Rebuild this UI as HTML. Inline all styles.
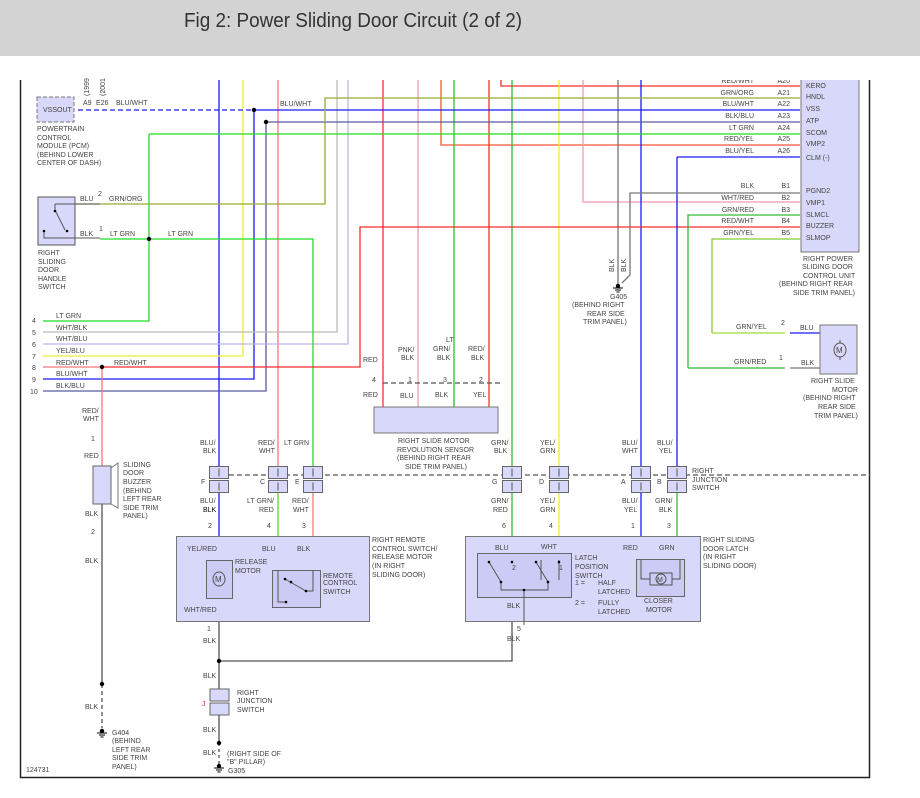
<!DOCTYPE html>
<html><head><meta charset="utf-8"><style>
body{margin:0;background:#fff;width:920px;height:798px;overflow:hidden}
svg{display:block}
text{font-family:"Liberation Sans",sans-serif;font-size:7px;fill:#444}
.t{font-family:"Liberation Sans Narrow","Liberation Sans",sans-serif;font-size:20px;fill:#333}
</style></head><body>
<svg id="s" width="920" height="798" viewBox="0 0 920 798" xmlns="http://www.w3.org/2000/svg">
<rect x="0" y="0" width="920" height="56" fill="#d3d3d3"/>
<text class="t" x="184" y="27" textLength="338" lengthAdjust="spacingAndGlyphs">Fig 2: Power Sliding Door Circuit (2 of 2)</text>
<path d="M20.5 80 V777.5 H869.5 V80" fill="none" stroke="#222" stroke-width="1.5"/>
<g id="w" fill="none" stroke-width="1.3"></g>
<g id="c"></g>
<rect x="801" y="78" width="58" height="174" fill="#d8d8fa" stroke="#777"/>
<g>
<text x="806" y="88">KERO</text><text x="806" y="99">HNDL</text><text x="806" y="111">VSS</text><text x="806" y="123">ATP</text><text x="806" y="135">SCOM</text><text x="806" y="146">VMP2</text><text x="806" y="160">CLM (-)</text>
<text x="806" y="193">PGND2</text><text x="806" y="205">VMP1</text><text x="806" y="217">SLMCL</text><text x="806" y="228">BUZZER</text><text x="806" y="240">SLMOP</text>
</g>
<g text-anchor="end">
<text x="754" y="83">RED/WHT</text><text x="790" y="83">A20</text>
<text x="754" y="95">GRN/ORG</text><text x="754" y="106">BLU/WHT</text><text x="754" y="118">BLK/BLU</text><text x="754" y="130">LT GRN</text><text x="754" y="141">RED/YEL</text><text x="754" y="153">BLU/YEL</text>
<text x="790" y="95">A21</text><text x="790" y="106">A22</text><text x="790" y="118">A23</text><text x="790" y="130">A24</text><text x="790" y="141">A25</text><text x="790" y="153">A26</text>
<text x="754" y="188">BLK</text><text x="754" y="200">WHT/RED</text><text x="754" y="212">GRN/RED</text><text x="754" y="223">RED/WHT</text><text x="754" y="235">GRN/YEL</text>
<text x="790" y="188">B1</text><text x="790" y="200">B2</text><text x="790" y="212">B3</text><text x="790" y="223">B4</text><text x="790" y="235">B5</text>
</g>
<rect x="0" y="56" width="920" height="24" fill="#fff"/>
<text x="803" y="261">RIGHT POWER</text><text x="802" y="269">SLIDING DOOR</text><text x="803" y="278">CONTROL UNIT</text><text x="779" y="286">(BEHIND RIGHT REAR</text><text x="793" y="295">SIDE TRIM PANEL)</text>
<rect x="37" y="97" width="37" height="25" fill="#d8d8fa" stroke="#777" stroke-dasharray="4,2"/>
<text x="43" y="112">VSSOUT</text>
<text x="83" y="105">A9</text><text x="96" y="105">E26</text><text x="116" y="105">BLU/WHT</text>
<text x="0" y="0" transform="translate(89,96) rotate(-90)">(1999</text>
<text x="0" y="0" transform="translate(105,96) rotate(-90)">(2001</text>
<text x="37" y="131">POWERTRAIN</text><text x="37" y="140">CONTROL</text><text x="37" y="148">MODULE (PCM)</text><text x="37" y="157">(BEHIND LOWER</text><text x="37" y="165">CENTER OF DASH)</text>
<text x="280" y="106">BLU/WHT</text>
<rect x="38" y="197" width="37" height="48" fill="#d8d8fa" stroke="#555"/>
<path d="M55 204 V211 M56 212 L65 230 M44 231 V238 H100 M55 204 H100" fill="none" stroke="#555"/>
<circle cx="55" cy="211" r="1.3" fill="#000"/><circle cx="67" cy="231" r="1.3" fill="#000"/><circle cx="44" cy="231" r="1.3" fill="#000"/>
<text x="80" y="201">BLU</text><text x="98" y="196">2</text><text x="109" y="201">GRN/ORG</text>
<text x="80" y="236">BLK</text><text x="99" y="231">1</text><text x="110" y="236">LT GRN</text><text x="168" y="236">LT GRN</text>
<text x="38" y="255">RIGHT</text><text x="38" y="264">SLIDING</text><text x="38" y="272">DOOR</text><text x="38" y="281">HANDLE</text><text x="38" y="289">SWITCH</text>
<g>
<text x="32" y="323">4</text><text x="32" y="335">5</text><text x="32" y="347">6</text><text x="32" y="359">7</text><text x="32" y="370">8</text><text x="32" y="382">9</text><text x="30" y="394">10</text>
<text x="56" y="318">LT GRN</text><text x="56" y="330">WHT/BLK</text><text x="56" y="341">WHT/BLU</text><text x="56" y="353">YEL/BLU</text><text x="56" y="365">RED/WHT</text><text x="56" y="376">BLU/WHT</text><text x="56" y="388">BLK/BLU</text>
<text x="114" y="365">RED/WHT</text>
</g>
<rect x="374" y="407" width="124" height="26" fill="#d8d8fa" stroke="#777"/>
<text x="363" y="362">RED</text><text x="398" y="352">PNK/</text><text x="401" y="360">BLK</text>
<text x="446" y="342">LT</text><text x="433" y="351">GRN/</text><text x="437" y="360">BLK</text>
<text x="468" y="351">RED/</text><text x="471" y="360">BLK</text>
<text x="372" y="382">4</text><text x="408" y="382">1</text><text x="443" y="382">3</text><text x="479" y="382">2</text>
<text x="363" y="397">RED</text><text x="400" y="398">BLU</text><text x="435" y="397">BLK</text><text x="473" y="397">YEL</text>
<text x="398" y="443">RIGHT SLIDE MOTOR</text><text x="397" y="452">REVOLUTION SENSOR</text><text x="397" y="460">(BEHIND RIGHT REAR</text><text x="405" y="469">SIDE TRIM PANEL)</text>
<text x="0" y="0" transform="translate(614,272) rotate(-90)">BLK</text>
<text x="0" y="0" transform="translate(626,272) rotate(-90)">BLK</text>
<text x="610" y="299">G405</text><text x="572" y="307">(BEHIND RIGHT</text><text x="587" y="316">REAR SIDE</text><text x="583" y="324">TRIM PANEL)</text>
<rect x="820" y="325" width="37" height="49" fill="#d8d8fa" stroke="#777"/>
<text x="736" y="329">GRN/YEL</text><text x="781" y="325">2</text><text x="800" y="330">BLU</text>
<text x="734" y="364">GRN/RED</text><text x="779" y="360">1</text><text x="801" y="365">BLK</text>
<text x="811" y="383">RIGHT SLIDE</text><text x="832" y="392">MOTOR</text><text x="803" y="400">(BEHIND RIGHT</text><text x="818" y="409">REAR SIDE</text><text x="814" y="418">TRIM PANEL)</text>
<rect x="93" y="466" width="18" height="38" fill="#d8d8fa" stroke="#666"/>
<path d="M111 468 L118 463 V508 L111 504" fill="none" stroke="#777"/>
<text x="82" y="413">RED/</text><text x="83" y="421">WHT</text><text x="91" y="441">1</text><text x="84" y="458">RED</text>
<text x="123" y="467">SLIDING</text><text x="123" y="475">DOOR</text><text x="123" y="484">BUZZER</text><text x="123" y="493">(BEHIND</text><text x="123" y="501">LEFT REAR</text><text x="123" y="510">SIDE TRIM</text><text x="123" y="518">PANEL)</text>
<text x="85" y="516">BLK</text><text x="91" y="534">2</text><text x="85" y="563">BLK</text><text x="85" y="709">BLK</text>
<text x="112" y="735">G404</text><text x="112" y="743">(BEHIND</text><text x="112" y="752">LEFT REAR</text><text x="112" y="760">SIDE TRIM</text><text x="112" y="769">PANEL)</text>
<text x="26" y="772">124731</text>
<text x="200" y="445">BLU/</text><text x="203" y="453">BLK</text>
<text x="258" y="445">RED/</text><text x="259" y="453">WHT</text><text x="284" y="445">LT GRN</text>
<text x="201" y="484">F</text><text x="260" y="484">C</text><text x="295" y="484">E</text>
<text x="200" y="503">BLU/</text><text x="203" y="512" style="fill:#000">BLK</text>
<text x="247" y="503">LT GRN/</text><text x="259" y="512">RED</text>
<text x="292" y="503">RED/</text><text x="293" y="512">WHT</text>
<text x="208" y="528">2</text><text x="267" y="528">4</text><text x="302" y="528">3</text>
<text x="491" y="445">GRN/</text><text x="494" y="453">BLK</text>
<text x="540" y="445">YEL/</text><text x="540" y="453">GRN</text>
<text x="622" y="445">BLU/</text><text x="622" y="453">WHT</text>
<text x="657" y="445">BLU/</text><text x="659" y="453">YEL</text>
<text x="492" y="484">G</text><text x="539" y="484">D</text><text x="621" y="484">A</text><text x="657" y="484">B</text>
<text x="692" y="473">RIGHT</text><text x="692" y="482">JUNCTION</text><text x="692" y="490">SWITCH</text>
<text x="491" y="503">GRN/</text><text x="493" y="512">RED</text>
<text x="540" y="503">YEL/</text><text x="540" y="512">GRN</text>
<text x="622" y="503">BLU/</text><text x="624" y="512">YEL</text>
<text x="655" y="503">GRN/</text><text x="659" y="512">BLK</text>
<text x="502" y="528">6</text><text x="549" y="528">4</text><text x="631" y="528">1</text><text x="667" y="528">3</text>
<rect x="176.5" y="536.5" width="193" height="85" fill="#d8d8fa" stroke="#777"/>
<rect x="206.5" y="560.5" width="26" height="38" fill="#cbcbf5" stroke="#666"/>
<ellipse cx="219" cy="579" rx="6" ry="7" fill="none" stroke="#555"/><text x="215" y="582" style="font-size:8px">M</text>
<rect x="272.5" y="570.5" width="48" height="37" fill="#cbcbf5" stroke="#666"/>
<path d="M278 570 V602 H286 M285 579 L306 591 H313 V570" fill="none" stroke="#555"/>
<circle cx="285" cy="579" r="1.3" fill="#000"/><circle cx="291" cy="582" r="1.3" fill="#000"/><circle cx="306" cy="591" r="1.3" fill="#000"/><circle cx="286" cy="602" r="1.3" fill="#000"/>
<text x="187" y="551">YEL/RED</text><text x="262" y="551">BLU</text><text x="297" y="551">BLK</text>
<text x="235" y="564">RELEASE</text><text x="235" y="573">MOTOR</text>
<text x="323" y="578">REMOTE</text><text x="323" y="585">CONTROL</text><text x="323" y="594">SWITCH</text>
<text x="184" y="612">WHT/RED</text>
<text x="372" y="542">RIGHT REMOTE</text><text x="372" y="551">CONTROL SWITCH/</text><text x="372" y="559">RELEASE MOTOR</text><text x="372" y="568">(IN RIGHT</text><text x="372" y="577">SLIDING DOOR)</text>
<text x="207" y="631">1</text><text x="203" y="643">BLK</text><text x="203" y="678">BLK</text>
<rect x="210" y="689" width="19" height="12" fill="#d8d8fa" stroke="#666"/><rect x="210" y="703" width="19" height="12" fill="#d8d8fa" stroke="#666"/>
<text x="202" y="706" style="fill:#c33">J</text>
<text x="237" y="695">RIGHT</text><text x="237" y="703">JUNCTION</text><text x="237" y="712">SWITCH</text>
<text x="203" y="732">BLK</text><text x="203" y="755">BLK</text>
<text x="227" y="756">(RIGHT SIDE OF</text><text x="227" y="764">"B" PILLAR)</text><text x="228" y="773">G305</text>
<rect x="465.5" y="536.5" width="235" height="85" fill="#d8d8fa" stroke="#777"/>
<rect x="477.5" y="553.5" width="94" height="44" fill="#cbcbf5" stroke="#666"/>
<rect x="636.5" y="559.5" width="48" height="37" fill="#cbcbf5" stroke="#666"/>
<path d="M489 562 L501 582 M536 562 L548 582 M501 582 V590 H548 V582 M524 590 V625 M541 560 V580 M559 560 V580" fill="none" stroke="#555"/>
<path d="M641 560 V579 H650 M672 579 H680 V560" fill="none" stroke="#555"/>
<rect x="650" y="573" width="22" height="12" fill="none" stroke="#555"/><ellipse cx="661" cy="579" rx="5" ry="5" fill="none" stroke="#555"/><text x="657" y="582" style="font-size:7px">M</text>
<g fill="#000"><circle cx="489" cy="562" r="1.3"/><circle cx="512" cy="562" r="1.3"/><circle cx="536" cy="562" r="1.3"/><circle cx="559" cy="562" r="1.3"/><circle cx="501" cy="582" r="1.3"/><circle cx="548" cy="582" r="1.3"/><circle cx="524" cy="590" r="1.3"/></g>
<text x="495" y="550">BLU</text><text x="541" y="549">WHT</text><text x="623" y="550">RED</text><text x="659" y="550">GRN</text>
<text x="512" y="570">2</text><text x="559" y="570">1</text>
<text x="575" y="560">LATCH</text><text x="575" y="569">POSITION</text><text x="575" y="578">SWITCH</text>
<text x="575" y="585">1 =</text><text x="598" y="585">HALF</text><text x="598" y="594">LATCHED</text>
<text x="575" y="605">2 =</text><text x="598" y="605">FULLY</text><text x="598" y="614">LATCHED</text>
<text x="644" y="603">CLOSER</text><text x="646" y="612">MOTOR</text>
<text x="507" y="608">BLK</text><text x="517" y="631">5</text><text x="507" y="641">BLK</text>
<text x="703" y="542">RIGHT SLIDING</text><text x="703" y="551">DOOR LATCH</text><text x="703" y="559">(IN RIGHT</text><text x="703" y="568">SLIDING DOOR)</text>
<g id="d" fill="#000"></g>
</svg>
<script>
var W=document.getElementById('w'),C=document.getElementById('c'),D=document.getElementById('d');
function p(d,c,dash){var e=document.createElementNS('http://www.w3.org/2000/svg','path');e.setAttribute('d',d);e.setAttribute('stroke',c);if(dash)e.setAttribute('stroke-dasharray',dash);W.appendChild(e);}
var B='#1a1aff',R='#ff2a2a',LR='#f07878',PK='#f39bb0',G='#22dd22',DG='#33bb33',Y='#eeee33',GY='#777',LG='#bbb',LB='#b8b8ee',BB='#5a5aa0',O='#ff5533',K='#555';
p('M219 80V466',B);p('M243 80V356H43',Y);p('M254 110V379H43',B);p('M266 122V391H43',BB);p('M278 80V466',LR);
p('M337 80V332H43',LG);p('M348 80V344H43',LB);p('M383 80V407',R);p('M418 80V407',PK);
p('M441 80V145H800',O);p('M454 80V407',DG);p('M489 80V407',R);p('M501 80V86H800',R);
p('M512 80V466',DG);p('M559 80V466',Y);p('M583 80V202H800',PK);p('M618 80V287',GY);p('M641 80V466',B);
p('M78 110H254',B,'5,3');p('M254 110H800',B);p('M266 122H800',BB);p('M149 134H800',G);p('M149 134V321H43',G);
p('M75 204H325V98H800','#99aa33');p('M100 239H313V466',G);
p('M102 367H360V227H800',R);p('M43 367H102V466',LR);
p('M677 157H800',B);p('M677 157V466',B);
p('M800 193H630V275L622 283',GY);p('M688 368V215H800',DG);p('M712 333V239H800','#88cc33');
p('M712 333H785','#99dd33');p('M688 368H785',DG);
p('M790 333H830V340',B);p('M790 368H830V360',GY);
p('M229 475H870',K,'5,3');
p('M219 493V536',B);p('M278 493V536','#66cc33');p('M313 493V536',LR);
p('M512 493V536',DG);p('M559 493V536',Y);p('M641 493V536',B);p('M677 493V536',DG);
p('M102 504V684',K);p('M102 684V728',K,'4,3');
p('M219 536V560',Y);p('M219 598V621',LR);p('M278 546V575',B);p('M313 546V575',GY);
p('M512 546V562',B);p('M559 546V562','#ddd');p('M641 546V560',R);p('M680 546V560',DG);
p('M219 621V689',K);p('M219 661H512V621',K);p('M219 715V743',K);p('M219 743V765',K,'3,3');
p('M383 383H500',K,'5,3');
var s=document.getElementById('s');
function r(x,y,w,h){var e=document.createElementNS('http://www.w3.org/2000/svg','rect');e.setAttribute('x',x);e.setAttribute('y',y);e.setAttribute('width',w);e.setAttribute('height',h);e.setAttribute('fill','#d8d8fa');e.setAttribute('stroke','#666');C.appendChild(e);
var a=document.createElementNS('http://www.w3.org/2000/svg','path');var cx=x+w/2;a.setAttribute('d','M'+cx+' '+(y+2)+'V'+(y+h-2));a.setAttribute('stroke','#555');a.setAttribute('fill','none');C.appendChild(a);}
[219,278,313,512,559,641,677].forEach(function(x){r(x-9.5,466.5,19,12);r(x-9.5,480.5,19,12);});
(function(){var e=document.createElementNS('http://www.w3.org/2000/svg','g');e.innerHTML='<ellipse cx="840" cy="350" rx="6" ry="7" fill="none" stroke="#555"/><path d="M840 340V343M840 357V360" stroke="#555"/>';s.appendChild(e);var t=document.createElementNS('http://www.w3.org/2000/svg','text');t.setAttribute('x','836');t.setAttribute('y','353');t.setAttribute('style','font-size:8px');t.textContent='M';s.appendChild(t);})();
function dot(x,y){var e=document.createElementNS('http://www.w3.org/2000/svg','circle');e.setAttribute('cx',x);e.setAttribute('cy',y);e.setAttribute('r',2.2);D.appendChild(e);}
dot(254,110);dot(266,122);dot(149,239);dot(102,367);dot(219,661);dot(102,684);dot(219,743);
function gnd(x,y){var e=document.createElementNS('http://www.w3.org/2000/svg','path');e.setAttribute('d','M'+(x-5)+' '+y+'H'+(x+5)+'M'+(x-3)+' '+(y+2)+'H'+(x+3)+'M'+(x-1.5)+' '+(y+4)+'H'+(x+1.5));e.setAttribute('stroke','#000');D.appendChild(e);dot(x,y-2);}
gnd(618,288);gnd(102,733);gnd(219,768);
</script>
</body></html>
